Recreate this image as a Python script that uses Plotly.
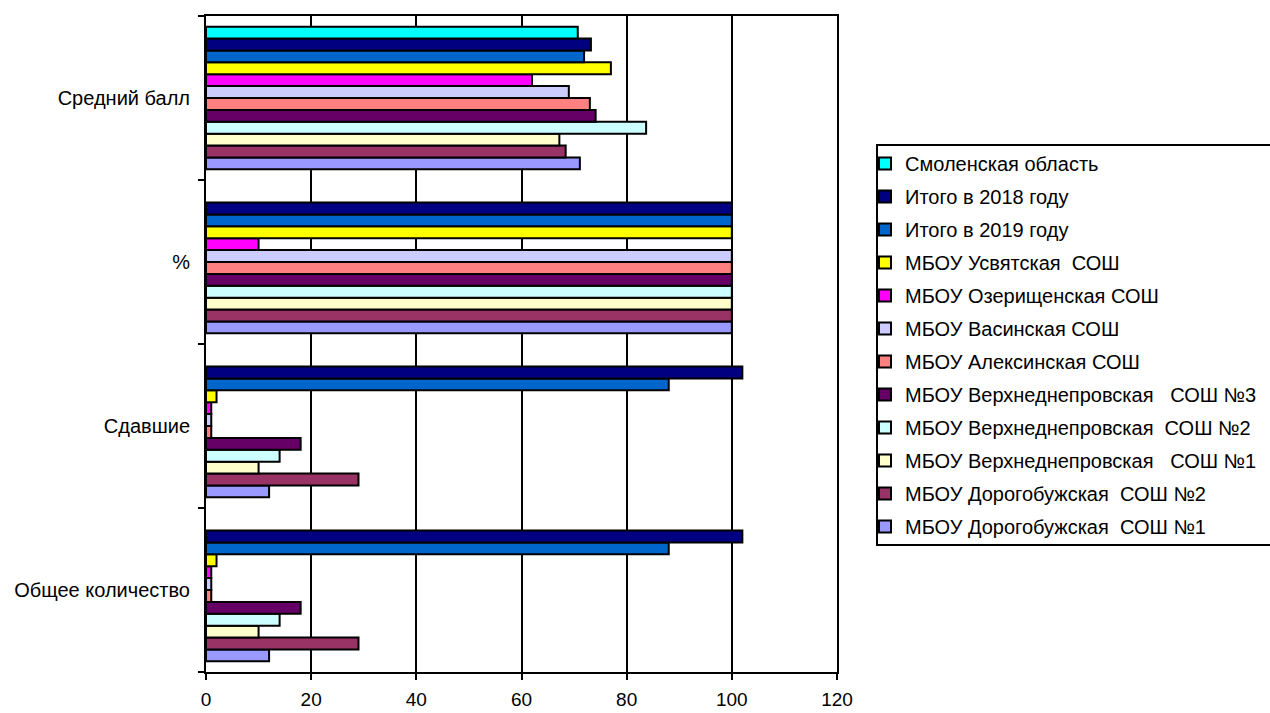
import plotly.graph_objects as go

categories = ["Общее количество", "Сдавшие", "%", "Средний балл"]

series_names = [
    "МБОУ Дорогобужская\u00a0 СОШ №1",
    "МБОУ Дорогобужская\u00a0 СОШ №2",
    "МБОУ Верхнеднепровская\u00a0\u00a0 СОШ №1",
    "МБОУ Верхнеднепровская\u00a0 СОШ №2",
    "МБОУ Верхнеднепровская\u00a0\u00a0 СОШ №3",
    "МБОУ Алексинская СОШ",
    "МБОУ Васинская СОШ",
    "МБОУ Озерищенская СОШ",
    "МБОУ Усвятская\u00a0 СОШ",
    "Итого в 2019 году",
    "Итого в 2018 году",
    "Смоленская область",
]

dorogobuzh1 = [12, 12, 100, 71.1]
dorogobuzh2 = [29, 29, 100, 68.4]
verkhnedn1 = [10, 10, 100, 67.2]
verkhnedn2 = [14, 14, 100, 83.7]
verkhnedn3 = [18, 18, 100, 74.1]
aleksino = [1, 1, 100, 73.0]
vasino = [1, 1, 100, 69.0]
ozerishche = [1, 1, 10, 62.0]
usvyaty = [2, 2, 100, 77.0]
total_2019 = [88, 88, 100, 71.9]
total_2018 = [102, 102, 100, 73.2]
smolensk = [None, None, None, 70.7]

series_values = [dorogobuzh1, dorogobuzh2, verkhnedn1, verkhnedn2, verkhnedn3,
                 aleksino, vasino, ozerishche, usvyaty, total_2019, total_2018, smolensk]

colors = ["#9999FF", "#993366", "#FFFFCC", "#CCFFFF", "#660066", "#FF8080",
          "#CCCCFF", "#FF00FF", "#FFFF00", "#0066CC", "#000080", "#00FFFF"]

x_ticks = [0, 20, 40, 60, 80, 100, 120]

FONT = "Arial, Liberation Sans, sans-serif"
FS = 20

# plot area in pixels
L, R, T, B = 206, 837, 16, 672
W, H = 1270, 713
pw, ph = R - L, B - T


def px_x(p):
    return (p - L) / pw


def px_y(p):
    return (B - p) / ph


n = len(series_names)
fig = go.Figure()
for i, (name, vals, col) in enumerate(zip(series_names, series_values, colors)):
    fig.add_trace(go.Bar(
        y=categories, x=vals, name=name, orientation="h",
        marker=dict(color=col, line=dict(color="black", width=2)),
        legendgroup=f"g{i}", legendrank=100 + (n - i),
    ))

# legend frame
fig.add_shape(type="rect", xref="paper", yref="paper",
              x0=px_x(877), x1=px_x(1290), y0=px_y(545), y1=px_y(145),
              line=dict(color="black", width=2), fillcolor="rgba(0,0,0,0)",
              layer="above")

fig.update_layout(
    width=W, height=H,
    paper_bgcolor="white", plot_bgcolor="white",
    barmode="group", bargap=0.13, bargroupgap=0,
    margin=dict(l=L, r=W - R, t=T, b=H - B, autoexpand=False),
    font=dict(family=FONT, size=FS, color="black"),
    showlegend=True,
    legend=dict(
        traceorder="grouped", x=px_x(865), y=px_y(144), xanchor="left", yanchor="top",
        borderwidth=0, bgcolor="rgba(0,0,0,0)",
        font=dict(family=FONT, size=FS, color="black"),
        tracegroupgap=4, itemwidth=30,
    ),
    xaxis=dict(
        range=[0, 120], tickvals=x_ticks, ticks="outside", ticklen=6, tickwidth=2,
        tickcolor="black", showline=True, linecolor="black", linewidth=2, mirror=True,
        showgrid=True, gridcolor="black", gridwidth=2, zeroline=False, automargin=False,
        tickfont=dict(family=FONT, size=FS - 1, color="black"), ticklabelstandoff=3,
    ),
    yaxis=dict(
        type="category", categoryorder="array", categoryarray=categories,
        tickson="boundaries", ticks="outside", ticklen=6, tickwidth=2, tickcolor="black",
        showline=True, linecolor="black", linewidth=2, mirror=True, showgrid=False,
        automargin=False,
        tickfont=dict(family=FONT, size=FS, color="black"), ticklabelstandoff=10,
    ),
)

fig.write_html("out.html", config={"displayModeBar": False},
               post_script="document.body.style.margin='0';")
